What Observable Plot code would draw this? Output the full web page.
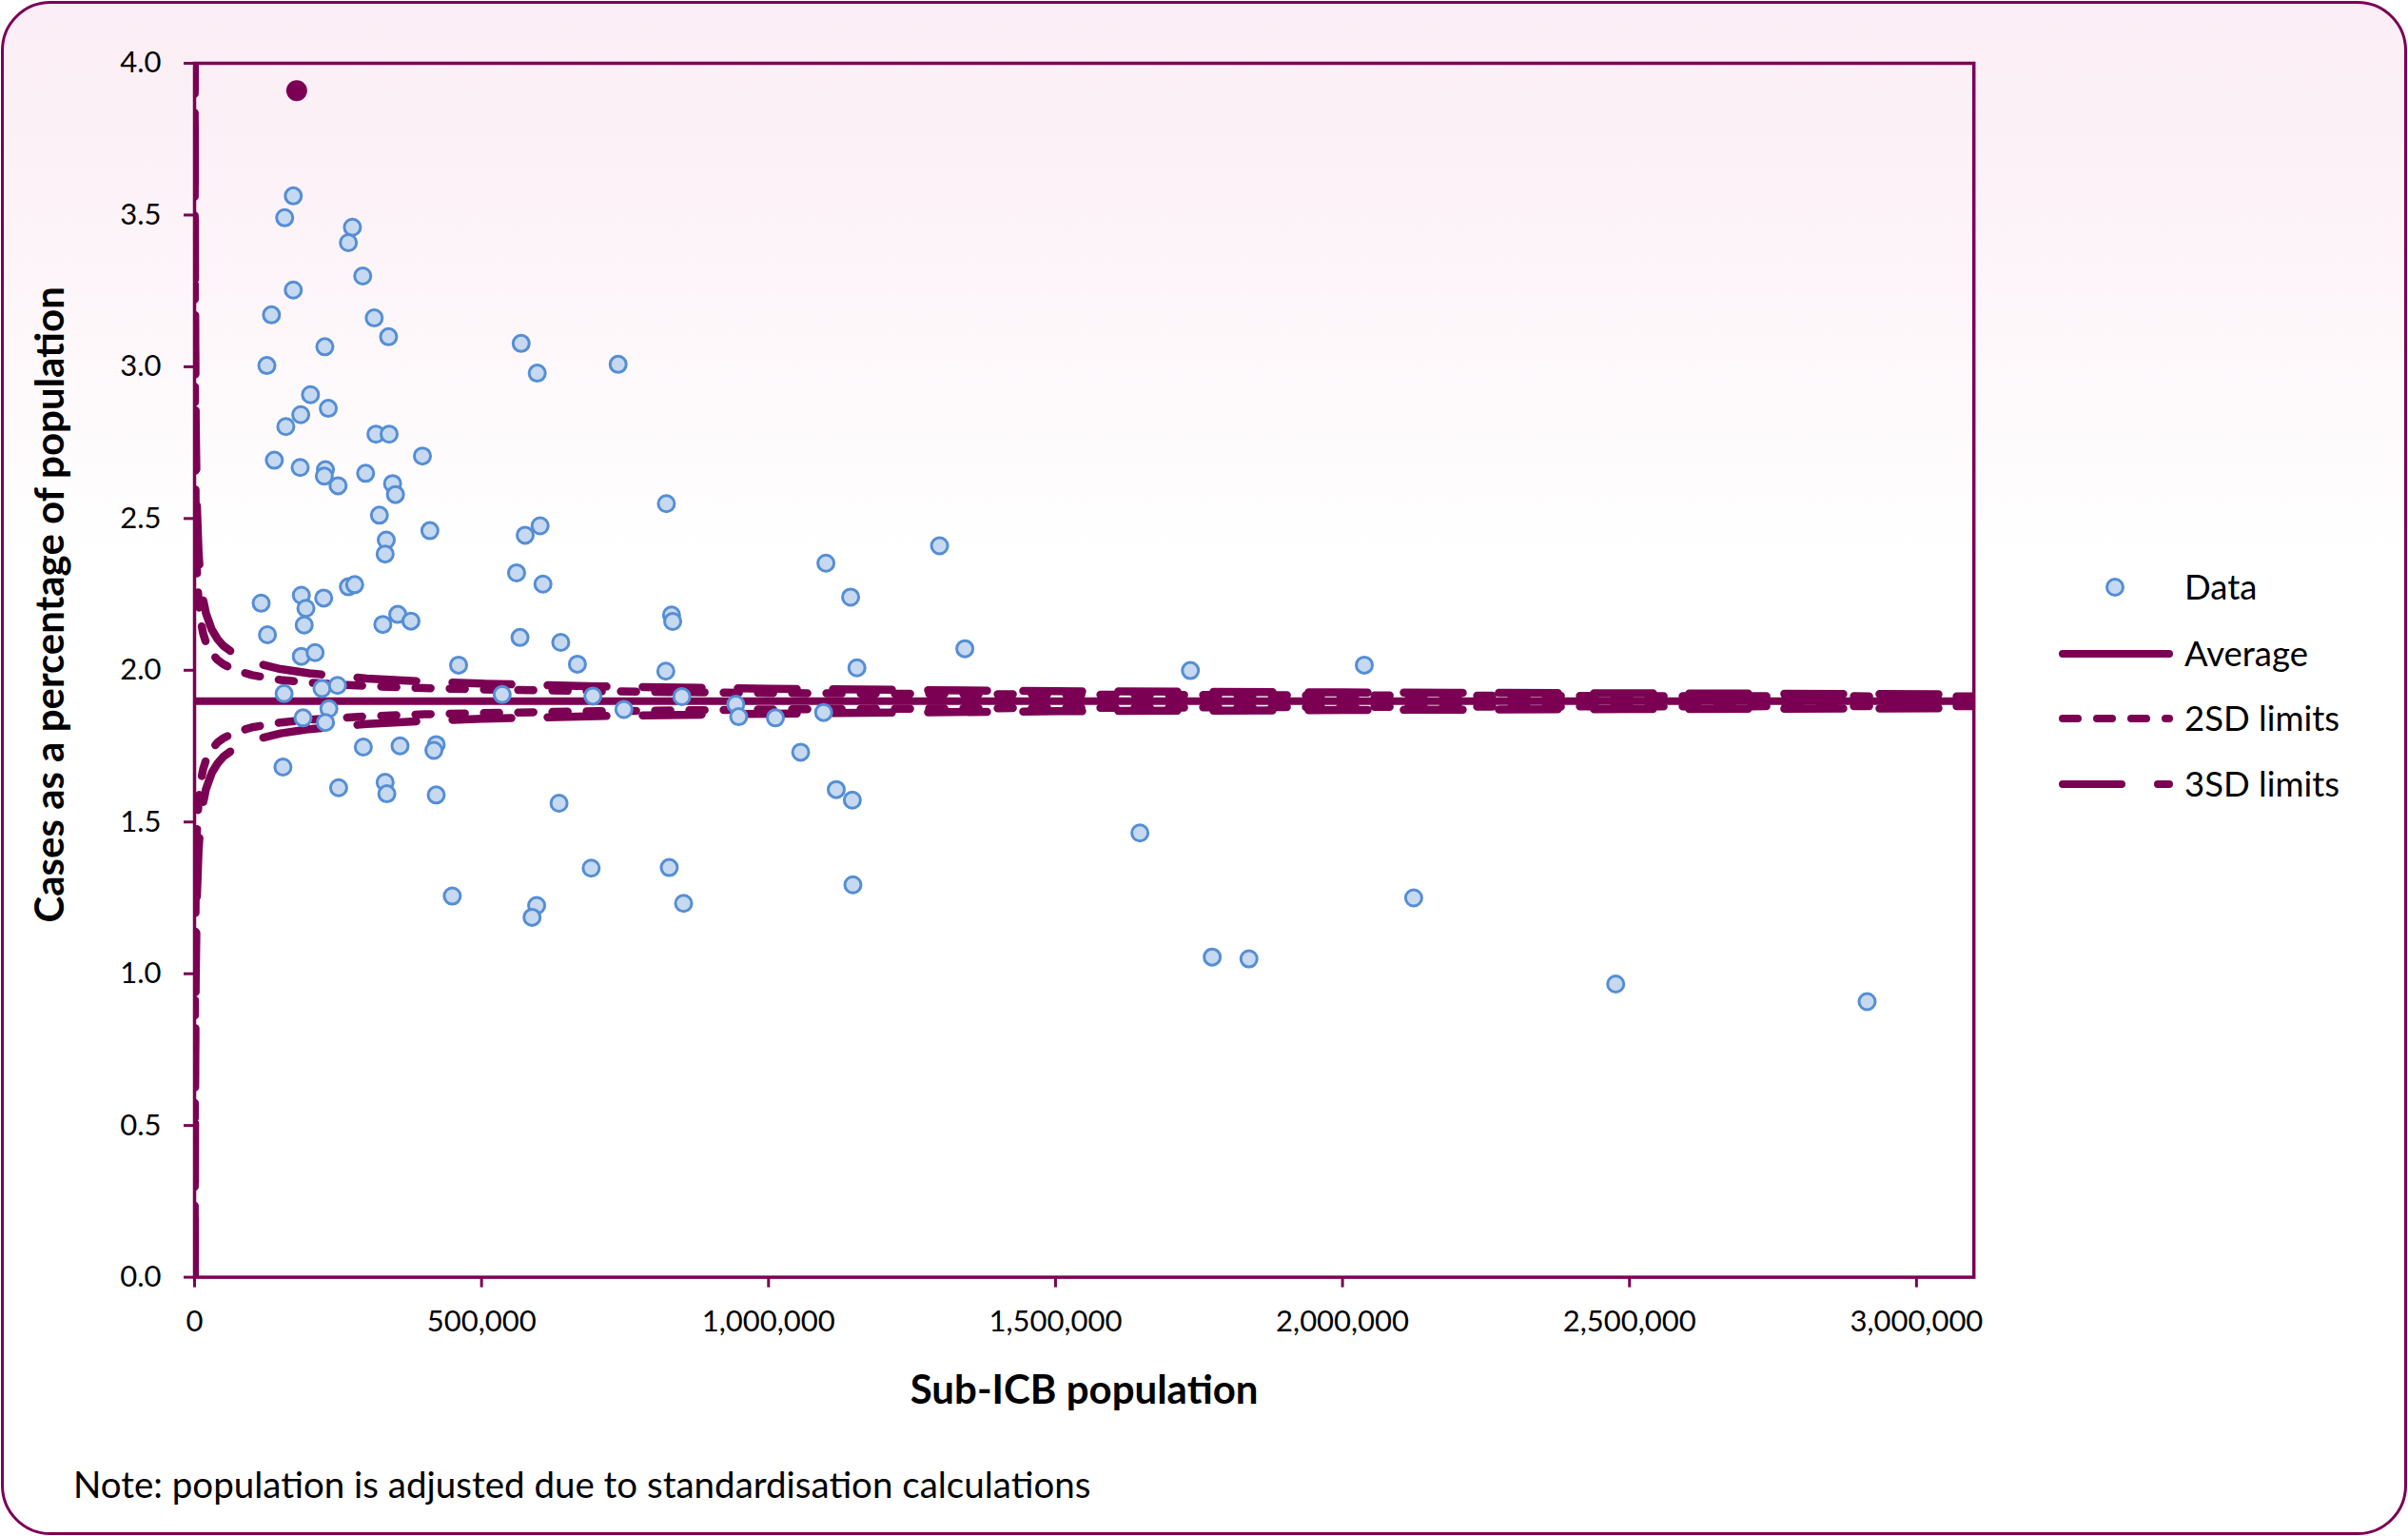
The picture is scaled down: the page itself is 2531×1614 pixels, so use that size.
<!DOCTYPE html>
<html>
<head>
<meta charset="utf-8">
<script src="https://cdn.jsdelivr.net/npm/d3@7"></script>
<script src="https://cdn.jsdelivr.net/npm/@observablehq/plot@0.6"></script>
<style>
  html, body { margin: 0; padding: 0; background: #ffffff; }
  body { width: 2531px; height: 1614px; overflow: hidden; position: relative; font-family: Lato, "Open Sans", sans-serif; }
  #bg { position: absolute; left: 1px; top: 1px; width: 2529px; height: 1612px; box-sizing: border-box;
        border: 3px solid #7b0053; border-radius: 52px;
        background: linear-gradient(to bottom, #fbedf5 0%, #fdf5f9 18%, #ffffff 36%, #ffffff 100%); }
  #plot { position: absolute; left: 0; top: 0; }
  #legend { position: absolute; left: 0; top: 0; pointer-events: none; }
  #note { position: absolute; left: 77px; top: 1537px; font-size: 38.5px; line-height: 44px; color: #000; white-space: nowrap; }
  #plot g[aria-label="x-axis tick"], #plot g[aria-label="y-axis tick"] { stroke: #7b0053; stroke-width: 3px; }
</style>
</head>
<body>
<div id="bg"></div>
<div id="plot"></div>
<div id="note">Note: population is adjusted due to standardisation calculations</div>
<div id="legend"></div>
<script>
// ---------- data ----------
const xTicks = [0, 500000, 1000000, 1500000, 2000000, 2500000, 3000000];
const yTicks = [0, 0.5, 1.0, 1.5, 2.0, 2.5, 3.0, 3.5, 4.0];

const population = [
  172000, 157000, 275000, 268000, 293000, 172000, 134000, 313000, 338000, 227000,
  126000, 569000, 597000, 738000, 202000, 233000, 185000, 159000, 316000, 339000,
  397000, 139000, 184000, 228000, 226000, 298000, 250000, 345000, 350000, 822000,
  322000, 410000, 602000, 576000, 334000, 332000, 561000, 607000, 116000, 186000,
  225000, 194000, 268000, 279000, 191000, 127000, 328000, 354000, 377000, 567000,
  638000, 667000, 460000, 186000, 210000, 821000, 156000, 222000, 249000, 536000,
  694000, 234000, 189000, 228000, 748000, 294000, 358000, 421000, 417000, 154000,
  251000, 332000, 335000, 421000, 635000, 691000, 827000, 449000, 596000, 588000,
  1100000, 1298000, 1143000, 831000, 833000, 1154000, 1342000, 849000, 943000, 948000,
  1012000, 1096000, 1056000, 1118000, 1146000, 1147000, 852000, 1735000, 2038000, 1647000,
  2124000, 1773000, 1837000, 2476000, 2914000
];
const rate = [
  3.563, 3.491, 3.460, 3.409, 3.299, 3.253, 3.171, 3.161, 3.099, 3.066,
  3.004, 3.077, 2.979, 3.008, 2.908, 2.863, 2.842, 2.803, 2.778, 2.778,
  2.706, 2.692, 2.668, 2.661, 2.640, 2.649, 2.608, 2.615, 2.579, 2.549,
  2.511, 2.460, 2.476, 2.445, 2.429, 2.383, 2.321, 2.284, 2.221, 2.247,
  2.238, 2.204, 2.275, 2.282, 2.149, 2.117, 2.151, 2.184, 2.162, 2.108,
  2.092, 2.020, 2.017, 2.046, 2.058, 1.997, 1.923, 1.940, 1.950, 1.920,
  1.915, 1.873, 1.843, 1.828, 1.871, 1.747, 1.751, 1.755, 1.736, 1.681,
  1.613, 1.631, 1.593, 1.589, 1.562, 1.348, 1.350, 1.256, 1.225, 1.186,
  2.353, 2.410, 2.241, 2.182, 2.161, 2.008, 2.071, 1.913, 1.888, 1.847,
  1.843, 1.861, 1.730, 1.607, 1.572, 1.293, 1.232, 1.999, 2.017, 1.464,
  1.250, 1.055, 1.049, 0.966, 0.908
];
// highlighted sub-ICB
const highlightPopulation = [178000];
const highlightRate = [3.91];

const averageRate = 1.898;

// control limits read along the funnel
const limitPopulation = [100, 200, 400, 700, 1000, 2000, 4000, 7000, 10000, 15000, 20000, 30000, 40000, 50000, 70000,
  100000, 150000, 200000, 300000, 400000, 500000, 700000, 1000000, 1500000, 2000000, 2500000, 3100000];
const upper2SD = [4.627, 3.828, 3.263, 2.929, 2.761, 2.508, 2.330, 2.224, 2.171, 2.121, 2.091, 2.056, 2.034, 2.020, 2.001,
  1.984, 1.968, 1.959, 1.948, 1.941, 1.937, 1.931, 1.925, 1.920, 1.917, 1.915, 1.914];
const lower2SD = [-0.831, -0.032, 0.533, 0.867, 1.035, 1.288, 1.466, 1.572, 1.625, 1.675, 1.705, 1.740, 1.762, 1.776, 1.795,
  1.812, 1.828, 1.837, 1.848, 1.855, 1.859, 1.865, 1.871, 1.876, 1.879, 1.881, 1.882];
const upper3SD = [5.992, 4.793, 3.945, 3.445, 3.193, 2.813, 2.545, 2.387, 2.307, 2.232, 2.187, 2.134, 2.103, 2.081, 2.053,
  2.027, 2.004, 1.990, 1.973, 1.963, 1.956, 1.947, 1.939, 1.931, 1.927, 1.924, 1.921];
const lower3SD = [-2.196, -0.997, -0.149, 0.351, 0.603, 0.983, 1.251, 1.409, 1.489, 1.564, 1.609, 1.662, 1.693, 1.715, 1.743,
  1.769, 1.792, 1.806, 1.823, 1.833, 1.840, 1.849, 1.857, 1.865, 1.869, 1.872, 1.875];

const legendLabels = ["Data", "Average", "2SD limits", "3SD limits"];

// ---------- build ----------
(function () {
  const purple = "#7b0053";
  const dotFill = "#c6d9f1";
  const dotStroke = "#558ed5";
  const dash2 = "16 20";
  const dash3 = "62 38";

  const points = population.map((p, i) => ({population: p, rate: rate[i]}));
  const highlight = highlightPopulation.map((p, i) => ({population: p, rate: highlightRate[i]}));
  const limits = limitPopulation.map((n, i) => ({n, u2: upper2SD[i], l2: lower2SD[i], u3: upper3SD[i], l3: lower3SD[i]}));

  const W = 2531, H = 1500;
  const pLeft = 204, pRight = 2074.2, pTop = 66, pBottom = 1341.6;

  const chart = Plot.plot({
    width: W,
    height: H,
    marginLeft: pLeft,
    marginRight: W - pRight,
    marginTop: pTop,
    marginBottom: H - pBottom,
    style: {background: "transparent", fontFamily: "Lato, 'Open Sans', sans-serif", fontSize: "31px", color: "#000", overflow: "visible"},
    x: {domain: [0, 3100000], label: null},
    y: {domain: [0, 4], label: null},
    marks: [
      Plot.line(limits, {x: "n", y: "u3", stroke: purple, strokeWidth: 8.5, strokeDasharray: dash3, strokeLinecap: "round", clip: true}),
      Plot.line(limits, {x: "n", y: "l3", stroke: purple, strokeWidth: 8.5, strokeDasharray: dash3, strokeLinecap: "round", clip: true}),
      Plot.line(limits, {x: "n", y: "u2", stroke: purple, strokeWidth: 8.5, strokeDasharray: dash2, strokeLinecap: "round", clip: true}),
      Plot.line(limits, {x: "n", y: "l2", stroke: purple, strokeWidth: 8.5, strokeDasharray: dash2, strokeLinecap: "round", clip: true}),
      Plot.ruleY([averageRate], {stroke: purple, strokeWidth: 8}),
      Plot.frame({stroke: purple, strokeWidth: 3.5}),
      Plot.axisX({ticks: xTicks, tickFormat: d3.format(","), tickSize: 11, tickPadding: 24, color: "#000", label: null, fontSize: 31}),
      Plot.axisY({ticks: yTicks, tickFormat: d3.format(".1f"), tickSize: 11, tickPadding: 24, color: "#000", label: null, fontSize: 31}),
      Plot.dot(points, {x: "population", y: "rate", r: 8.5, fill: dotFill, stroke: dotStroke, strokeWidth: 3}),
      Plot.dot(highlight, {x: "population", y: "rate", r: 11, fill: purple}),
      Plot.text(["Sub-ICB population"], {frameAnchor: "bottom", dy: 119.5, textAnchor: "middle", lineAnchor: "middle", fontWeight: "bold", fontSize: 42, fill: "#000"}),
      Plot.text(["Cases as a percentage of population"], {frameAnchor: "left", dx: 53 - pLeft, dy: -69, rotate: -90, textAnchor: "middle", lineAnchor: "middle", fontWeight: "bold", fontSize: 42, fill: "#000"})
    ]
  });
  document.getElementById("plot").appendChild(chart);

  // ---------- legend ----------
  const lg = d3.select("#legend").append("svg")
    .attr("width", W).attr("height", 1614)
    .style("font-family", "Lato, 'Open Sans', sans-serif");
  lg.append("rect").attr("x", 2097).attr("y", 582).attr("width", 421).attr("height", 290).attr("fill", "#ffffff");
  const rowsY = [617, 687, 755, 824];
  lg.append("circle").attr("cx", 2223).attr("cy", rowsY[0]).attr("r", 8.5)
    .attr("fill", dotFill).attr("stroke", dotStroke).attr("stroke-width", 3);
  [[1, null], [2, dash2], [3, dash3]].forEach(([i, dash]) => {
    const l = lg.append("line").attr("x1", 2168).attr("x2", 2280).attr("y1", rowsY[i]).attr("y2", rowsY[i])
      .attr("stroke", purple).attr("stroke-width", 8).attr("stroke-linecap", "round");
    if (dash) l.attr("stroke-dasharray", dash);
  });
  legendLabels.forEach((t, i) => {
    lg.append("text").attr("x", 2296).attr("y", rowsY[i]).attr("dy", "0.36em")
      .attr("font-size", 36.5).attr("fill", "#000").text(t);
  });
})();
</script>
</body>
</html>
